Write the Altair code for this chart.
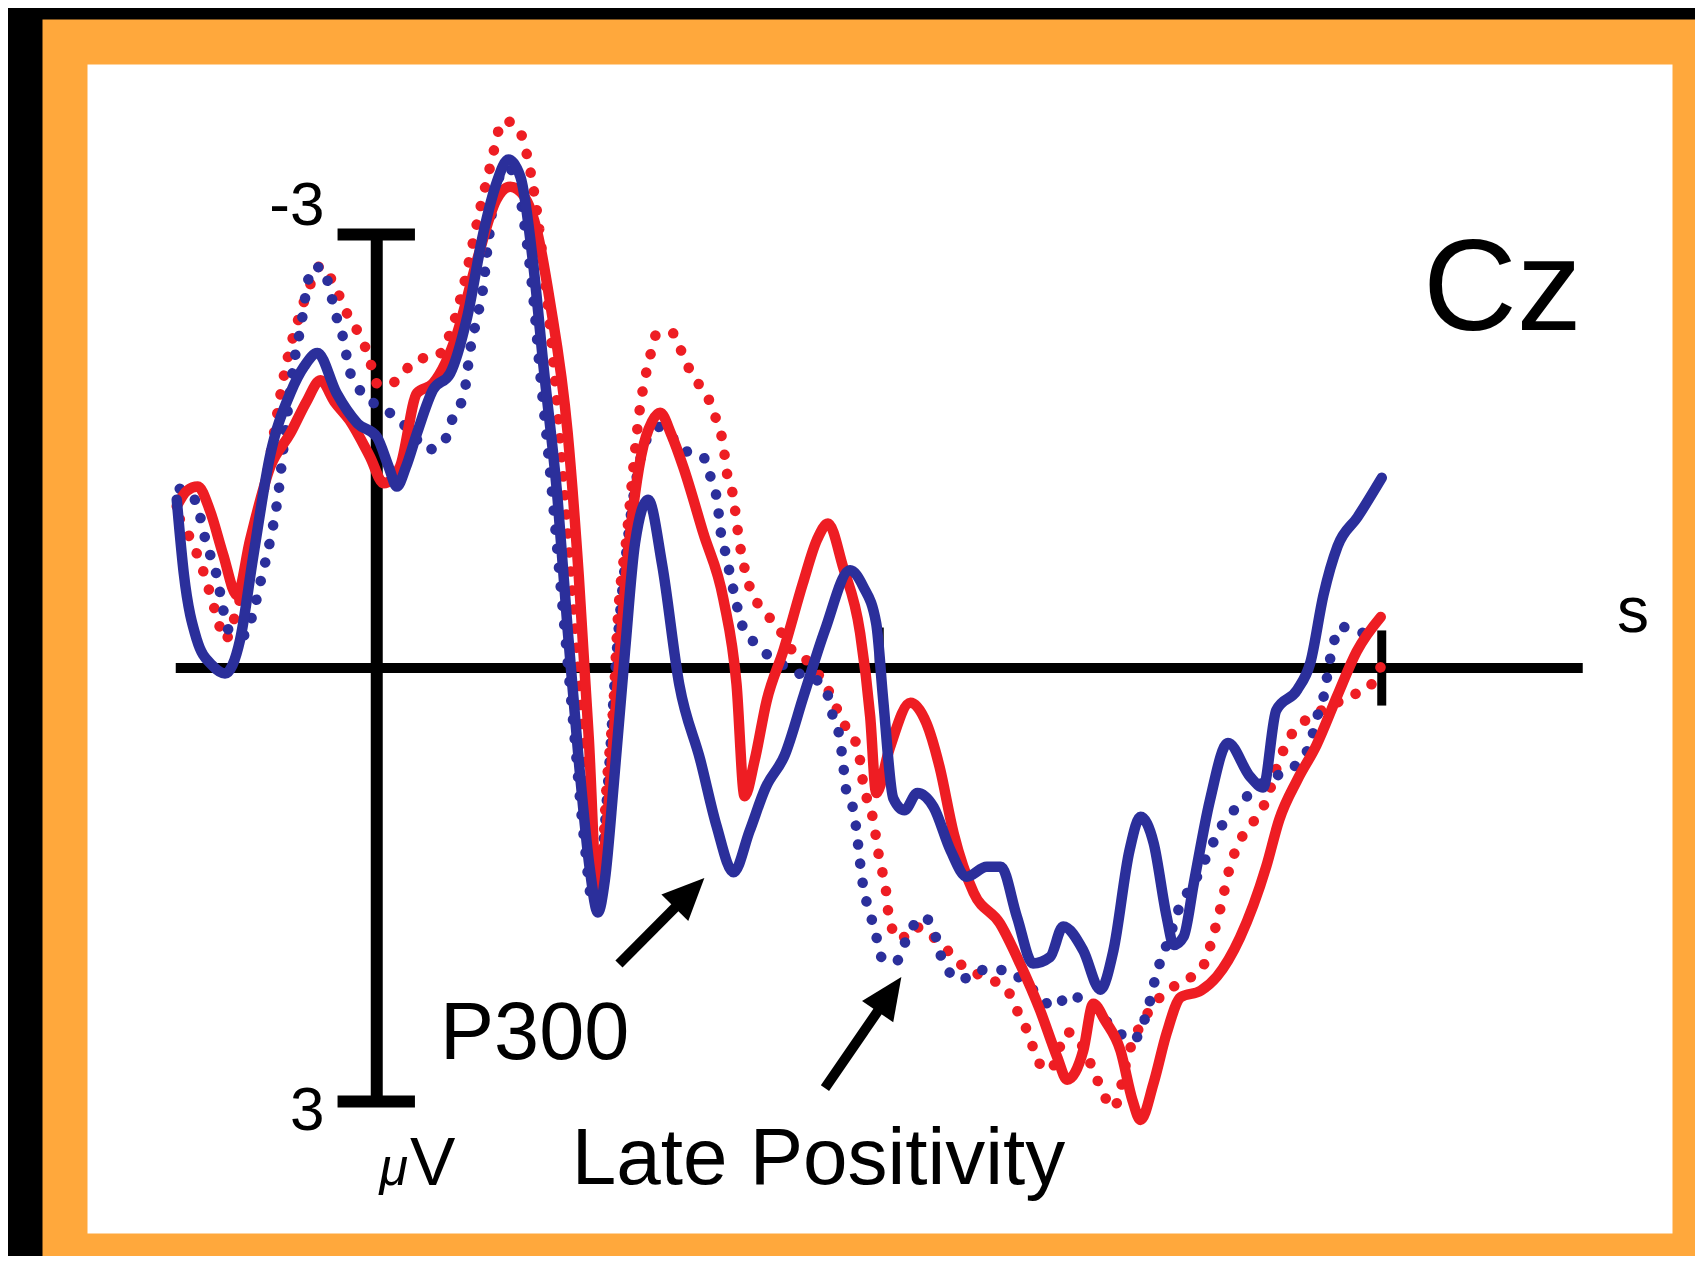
import altair as alt
import pandas as pd

RED = "#EE1D23"
BLUE = "#2B2F9B"
ORANGE = "#FFA83C"
FONT = "Liberation Sans"

# ---- ERP waveforms at Cz: (time in s, amplitude in microvolts; negative up) ----
blue_solid = [
    (-0.199, -1.165), (-0.192, -0.654), (-0.179, -0.195), (-0.164, -0.02), (-0.151, 0.038),
    (-0.136, -0.195), (-0.123, -0.767), (-0.106, -1.474), (-0.086, -1.902), (-0.072, -2.09),
    (-0.059, -2.18), (-0.040, -1.902), (-0.019, -1.692), (0.000, -1.60), (0.012, -1.39),
    (0.020, -1.256), (0.029, -1.39), (0.040, -1.624), (0.056, -1.925), (0.073, -2.038),
    (0.090, -2.429), (0.106, -3.008), (0.119, -3.353), (0.131, -3.519), (0.143, -3.398),
    (0.156, -2.774), (0.166, -2.083), (0.180, -1.165), (0.190, -0.263), (0.201, 0.639),
    (0.212, 1.391), (0.220, 1.692), (0.227, 1.466), (0.236, 0.789), (0.247, -0.113),
    (0.257, -0.865), (0.270, -1.165), (0.284, -0.714), (0.301, 0.113), (0.322, 0.639),
    (0.338, 1.09), (0.355, 1.414), (0.371, 1.128), (0.387, 0.827), (0.406, 0.602),
    (0.425, 0.188), (0.446, -0.263), (0.471, -0.677), (0.484, -0.564), (0.497, -0.308),
    (0.504, 0.226), (0.514, 0.902), (0.525, 0.985), (0.538, 0.865), (0.554, 0.962),
    (0.571, 1.263), (0.587, 1.444), (0.607, 1.376), (0.621, 1.376), (0.637, 1.722),
    (0.653, 2.045), (0.670, 2.0), (0.683, 1.789), (0.703, 1.955), (0.720, 2.226),
    (0.733, 1.955), (0.749, 1.263), (0.760, 1.03), (0.773, 1.211), (0.786, 1.722),
    (0.793, 1.917), (0.803, 1.857), (0.813, 1.489), (0.829, 0.917), (0.847, 0.519),
    (0.869, 0.752), (0.882, 0.827), (0.895, 0.293), (0.916, 0.15), (0.929, -0.038),
    (0.942, -0.504), (0.956, -0.842), (0.976, -1.045), (1.000, -1.316),
]

red_solid = [
    (-0.199, -1.12), (-0.189, -1.226), (-0.178, -1.256), (-0.166, -1.09), (-0.153, -0.789),
    (-0.139, -0.504), (-0.126, -0.887), (-0.106, -1.391), (-0.086, -1.624), (-0.070, -1.842),
    (-0.056, -1.992), (-0.042, -1.842), (-0.027, -1.714), (-0.007, -1.466), (0.007, -1.278),
    (0.023, -1.391), (0.040, -1.902), (0.056, -1.97), (0.080, -2.316), (0.100, -2.827),
    (0.119, -3.241), (0.133, -3.331), (0.146, -3.271), (0.160, -3.008), (0.172, -2.549),
    (0.190, -1.624), (0.201, -0.639), (0.211, 0.489), (0.220, 1.617), (0.228, 1.165),
    (0.238, 0.263), (0.249, -0.714), (0.263, -1.466), (0.274, -1.707), (0.282, -1.767),
    (0.293, -1.617), (0.305, -1.391), (0.325, -0.932), (0.345, -0.474), (0.358, 0.113),
    (0.366, 0.887), (0.376, 0.639), (0.388, 0.226), (0.405, -0.128), (0.424, -0.586),
    (0.438, -0.887), (0.449, -1.0), (0.464, -0.699), (0.481, -0.241), (0.491, 0.338),
    (0.497, 0.865), (0.510, 0.564), (0.531, 0.241), (0.547, 0.383), (0.560, 0.684),
    (0.574, 1.143), (0.594, 1.556), (0.620, 1.767), (0.640, 2.045), (0.660, 2.368),
    (0.677, 2.692), (0.687, 2.85), (0.703, 2.647), (0.713, 2.323), (0.725, 2.444),
    (0.740, 2.647), (0.752, 2.992), (0.760, 3.128), (0.773, 2.872), (0.786, 2.526),
    (0.800, 2.278), (0.820, 2.233), (0.836, 2.135), (0.859, 1.865), (0.885, 1.376),
    (0.898, 1.05), (0.916, 0.774), (0.935, 0.534), (0.956, 0.188), (0.975, -0.113),
    (0.999, -0.353),
]

red_dotted = [
    (-0.196, -1.03), (-0.182, -0.842), (-0.173, -0.677), (-0.166, -0.519), (-0.159, -0.353),
    (-0.151, -0.195), (-0.142, -0.338), (-0.128, -0.714), (-0.110, -1.316), (-0.089, -2.135),
    (-0.076, -2.459), (-0.067, -2.639), (-0.056, -2.782), (-0.040, -2.617), (-0.030, -2.459),
    (-0.018, -2.316), (-0.008, -2.158), (0.000, -1.97), (0.010, -1.955), (0.020, -1.992),
    (0.040, -2.135), (0.060, -2.158), (0.073, -2.316), (0.087, -2.662), (0.101, -3.12),
    (0.113, -3.474), (0.126, -3.789), (0.140, -3.744), (0.149, -3.564), (0.157, -3.271),
    (0.169, -2.594), (0.182, -1.617), (0.195, -0.489), (0.207, 0.639), (0.216, 1.466),
    (0.223, 1.391), (0.229, 0.789), (0.236, 0.188), (0.239, -0.241), (0.249, -0.932),
    (0.262, -1.805), (0.272, -2.158), (0.279, -2.316), (0.295, -2.316), (0.305, -2.158),
    (0.315, -2.015), (0.329, -1.88), (0.338, -1.714), (0.345, -1.534), (0.348, -1.368),
    (0.354, -1.211), (0.361, -0.865), (0.372, -0.541), (0.385, -0.398), (0.401, -0.263),
    (0.411, -0.143), (0.430, -0.038), (0.449, 0.15), (0.464, 0.376), (0.479, 0.564),
    (0.484, 0.797), (0.494, 1.053), (0.500, 1.316), (0.507, 1.556), (0.510, 1.744),
    (0.521, 1.88), (0.534, 1.789), (0.550, 1.842), (0.568, 1.955), (0.584, 2.068),
    (0.603, 2.135), (0.627, 2.226), (0.640, 2.414), (0.650, 2.556), (0.657, 2.714),
    (0.670, 2.782), (0.687, 2.52), (0.700, 2.594), (0.713, 2.782), (0.722, 2.932),
    (0.733, 3.045), (0.749, 2.647), (0.769, 2.368), (0.798, 2.18), (0.820, 2.09),
    (0.833, 1.835), (0.839, 1.677), (0.849, 1.376), (0.863, 1.143), (0.876, 1.03),
    (0.885, 0.917), (0.898, 0.639), (0.909, 0.474), (0.929, 0.338), (0.949, 0.263),
    (0.971, 0.188), (0.988, 0.128), (0.999, -0.008),
]

blue_dotted = [
    (-0.196, -1.24), (-0.179, -1.143), (-0.173, -0.955), (-0.166, -0.789), (-0.159, -0.632),
    (-0.154, -0.451), (-0.149, -0.286), (-0.142, -0.226), (-0.132, -0.226), (-0.123, -0.383),
    (-0.116, -0.586), (-0.106, -0.887), (-0.098, -1.203), (-0.092, -1.579), (-0.083, -2.083),
    (-0.074, -2.429), (-0.070, -2.617), (-0.064, -2.774), (-0.054, -2.774), (-0.046, -2.594),
    (-0.040, -2.429), (-0.033, -2.271), (-0.028, -2.083), (-0.019, -1.947), (-0.002, -1.827),
    (0.019, -1.737), (0.036, -1.617), (0.050, -1.511), (0.066, -1.556), (0.076, -1.737),
    (0.087, -1.902), (0.093, -2.203), (0.100, -2.429), (0.106, -2.639), (0.110, -2.895),
    (0.113, -3.053), (0.116, -3.241), (0.122, -3.398), (0.130, -3.466), (0.140, -3.346),
    (0.149, -2.962), (0.156, -2.549), (0.162, -2.083), (0.172, -1.391), (0.183, -0.564),
    (0.195, 0.338), (0.206, 1.165), (0.215, 1.617), (0.223, 1.391), (0.231, 0.714),
    (0.238, -0.038), (0.247, -0.714), (0.255, -1.165), (0.262, -1.436), (0.272, -1.624),
    (0.282, -1.669), (0.305, -1.511), (0.325, -1.459), (0.333, -1.301), (0.339, -1.143),
    (0.342, -0.955), (0.347, -0.797), (0.352, -0.632), (0.357, -0.474), (0.363, -0.308),
    (0.376, -0.173), (0.397, -0.053), (0.420, 0.038), (0.436, 0.075), (0.448, 0.173),
    (0.454, 0.338), (0.461, 0.496), (0.464, 0.662), (0.467, 0.842), (0.475, 1.008),
    (0.478, 1.165), (0.481, 1.353), (0.484, 1.511), (0.491, 1.699), (0.497, 1.857),
    (0.504, 2.023), (0.518, 2.023), (0.528, 1.857), (0.544, 1.722), (0.554, 1.812),
    (0.563, 2.023), (0.581, 2.158), (0.600, 2.09), (0.624, 2.09), (0.653, 2.226),
    (0.674, 2.346), (0.690, 2.256), (0.706, 2.331), (0.720, 2.406), (0.739, 2.526),
    (0.752, 2.579), (0.766, 2.391), (0.776, 2.113), (0.789, 1.857), (0.800, 1.632),
    (0.813, 1.489), (0.825, 1.316), (0.841, 1.09), (0.859, 0.94), (0.879, 0.805),
    (0.900, 0.729), (0.919, 0.639), (0.929, 0.519), (0.935, 0.353), (0.942, 0.203),
    (0.949, -0.075), (0.959, -0.286), (0.978, -0.248), (0.997, -0.218),
]

# ---- axis cross: baseline (-0.2..1.2 s), 3 uV scale bar, time ticks ----
axis_rules = [
    # t, v, t2, v2, width
    (-0.2, 0.0, 1.2, 0.0, 10),
    (0.0, -3.0, 0.0, 3.0, 12),
    (-0.039, -3.0, 0.038, -3.0, 12),
    (-0.039, 3.0, 0.038, 3.0, 12),
    (0.5, 0.0, 0.5, -0.28, 9),
    (1.0, -0.26, 1.0, 0.26, 9),
]

# ---- annotations ----
labels = [
    # text, t, v, size, align, style
    ("-3", -0.052, -3.066, 62, "right", "normal"),
    ("3", -0.052, 3.197, 62, "right", "normal"),
    ("\u03bc", 0.031, 3.578, 52, "right", "italic"),
    ("V", 0.033, 3.578, 68, "left", "normal"),
    ("P300", 0.063, 2.706, 81, "left", "normal"),
    ("Late Positivity", 0.194, 3.571, 80, "left", "normal"),
    ("Cz", 1.041, -2.34, 130, "left", "normal"),
    ("s", 1.250, -0.249, 64, "center", "normal"),
]

arrows = [
    # tail_t, tail_v, tip_t, tip_v, angle (deg, clockwise from up)
    (0.241, 2.048, 0.326, 1.453, 44.7),
    (0.446, 2.907, 0.522, 2.138, 34.4),
]

xs = alt.Scale(domain=[-0.3102, 1.3117], nice=False, zero=False)
ys = alt.Scale(domain=[-4.3322, 4.0692], reverse=True, nice=False, zero=False)


def wave_df(pts):
    return pd.DataFrame([{"i": i, "t": t, "v": v} for i, (t, v) in enumerate(pts)])


def wave(pts, color, dotted):
    kw = dict(color=color, strokeWidth=10.5, strokeCap="round", strokeJoin="round",
              interpolate="monotone")
    if dotted:
        kw["strokeDash"] = [0.1, 19]
    return alt.Chart(wave_df(pts)).mark_line(**kw).encode(
        x=alt.X("t:Q", scale=xs, axis=None),
        y=alt.Y("v:Q", scale=ys, axis=None),
        order=alt.Order("i:Q"),
    )


rules_df = pd.DataFrame(axis_rules, columns=["t", "v", "t2", "v2", "w"])
rules = alt.Chart(rules_df).mark_rule(color="black").encode(
    x=alt.X("t:Q", scale=xs, axis=None),
    y=alt.Y("v:Q", scale=ys, axis=None),
    x2="t2:Q",
    y2="v2:Q",
    strokeWidth=alt.StrokeWidth("w:Q", scale=None),
)

arr_df = pd.DataFrame(arrows, columns=["t0", "v0", "t1", "v1", "ang"])
arr_df["ts"] = arr_df["t0"] + 0.8 * (arr_df["t1"] - arr_df["t0"])
arr_df["vs"] = arr_df["v0"] + 0.8 * (arr_df["v1"] - arr_df["v0"])

shafts = alt.Chart(arr_df).mark_rule(color="black", strokeWidth=10).encode(
    x=alt.X("t0:Q", scale=xs, axis=None),
    y=alt.Y("v0:Q", scale=ys, axis=None),
    x2="ts:Q",
    y2="vs:Q",
)
heads = alt.Chart(arr_df).mark_point(
    shape="M0,0 L0.45,1 L-0.45,1 Z", filled=True, color="black", opacity=1,
    size=7056, strokeWidth=0,
).encode(
    x=alt.X("t1:Q", scale=xs, axis=None),
    y=alt.Y("v1:Q", scale=ys, axis=None),
    angle=alt.Angle("ang:Q", scale=None),
)

texts = []
for text, t, v, size, align, style in labels:
    texts.append(
        alt.Chart(pd.DataFrame([{"t": t, "v": v, "label": text}])).mark_text(
            font=FONT, fontSize=size, align=align, baseline="alphabetic",
            fontStyle=style, color="black",
        ).encode(
            x=alt.X("t:Q", scale=xs, axis=None),
            y=alt.Y("v:Q", scale=ys, axis=None),
            text="label:N",
        )
    )

chart = alt.layer(
    rules,
    wave(red_dotted, RED, True),
    wave(blue_dotted, BLUE, True),
    wave(red_solid, RED, False),
    wave(blue_solid, BLUE, False),
    shafts,
    heads,
    *texts,
).properties(
    width=1630,
    height=1214,
    autosize=alt.AutoSizeParams(type="none"),
    padding={"left": 57, "top": 34, "right": 0, "bottom": 0},
    background="black",
).configure_view(
    fill="white", stroke=ORANGE, strokeWidth=45,
)

chart.save("out.html", embed_options={"renderer": "svg", "actions": False})
